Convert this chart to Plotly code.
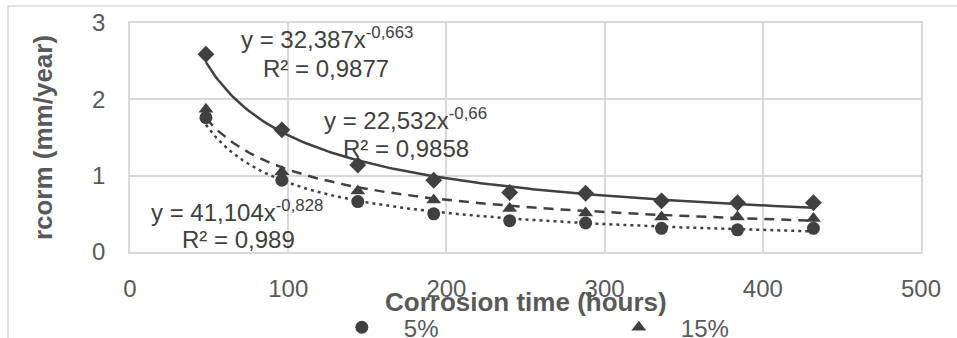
import numpy as np
import plotly.graph_objects as go

# ---- data ----
hours = [48, 96, 144, 192, 240, 288, 336, 384, 432]
rcorm_5 = [1.76, 0.94, 0.66, 0.50, 0.41, 0.38, 0.31, 0.29, 0.31]
rcorm_15 = [1.87, 1.05, 0.80, 0.68, 0.57, 0.51, 0.46, 0.46, 0.44]
rcorm_25 = [2.59, 1.60, 1.14, 0.94, 0.78, 0.77, 0.67, 0.645, 0.645]

series_names = ["5%", "15%", "25%"]
# power trend lines y = a * x^b as printed on the chart
trend_a = [41.104, 22.532, 32.387]
trend_b = [-0.828, -0.66, -0.663]
trend_eq = ["y = 41,104x<sup>-0,828</sup>", "y = 22,532x<sup>-0,66</sup>", "y = 32,387x<sup>-0,663</sup>"]
trend_r2 = ["R² = 0,989", "R² = 0,9858", "R² = 0,9877"]

x_ticks = [0, 100, 200, 300, 400, 500]
y_ticks = [0, 1, 2, 3]

INK = "#404040"
TXT = "#595959"
GRID = "#d9d9d9"
FONT = "Liberation Sans, Arial, sans-serif"

fig = go.Figure()

series_vals = [rcorm_5, rcorm_15, rcorm_25]
symbols = ["circle", "triangle-up", "diamond"]
sizes = [13, 13, 13]
dashes = ["3px,4px", "10px,7px", "solid"]

xs = np.linspace(min(hours), max(hours), 200)
for vals, name, sym, sz, a, b, d in zip(series_vals, series_names, symbols, sizes, trend_a, trend_b, dashes):
    fig.add_trace(go.Scatter(
        x=xs, y=a * xs ** b, mode="lines", showlegend=False, hoverinfo="skip",
        line=dict(color=INK, width=2.5, dash=d),
    ))
for vals, name, sym, sz in zip(series_vals, series_names, symbols, sizes):
    fig.add_trace(go.Scatter(
        x=hours, y=vals, mode="markers", name=name,
        marker=dict(symbol=sym, size=sz, color=INK),
    ))

# equation labels (pixel positions converted to data coords)
eq_pos = [((237, 211), (238, 239)), ((405, 119), (406, 148)), ((327, 38), (326, 68))]
def px2x(px):
    return (px - 130) / 791 * 500
def py2y(py):
    return (252 - py) / 229 * 3

annotations = []
for (p1, p2), eq, r2 in zip(eq_pos, trend_eq, trend_r2):
    annotations.append(dict(x=px2x(p1[0]), y=py2y(p1[1]), xref="x", yref="y", text=eq,
                            showarrow=False, xanchor="center", yanchor="middle",
                            font=dict(family=FONT, size=24, color=INK)))
    annotations.append(dict(x=px2x(p2[0]), y=py2y(p2[1]), xref="x", yref="y", text=r2,
                            showarrow=False, xanchor="center", yanchor="middle",
                            font=dict(family=FONT, size=24, color=INK)))

annotations.append(dict(x=0.5, y=(252 - 302) / 229, xref="paper", yref="paper",
                        text="<b>Corrosion time (hours)</b>", showarrow=False,
                        xanchor="center", yanchor="middle",
                        font=dict(family=FONT, size=26, color=TXT)))

fig.update_layout(
    width=957, height=338,
    margin=dict(l=130, r=36, t=23, b=86, autoexpand=False),
    paper_bgcolor="white", plot_bgcolor="white",
    font=dict(family=FONT, size=24, color=TXT),
    annotations=annotations,
    shapes=[dict(type="rect", xref="paper", yref="paper",
                 x0=(8 - 130) / 791, x1=1.2, y0=-0.6, y1=(252 - 6) / 229,
                 line=dict(color=GRID, width=1.5), fillcolor="rgba(0,0,0,0)", layer="below")],
    legend=dict(orientation="h", x=0.24, xanchor="left", y=-0.232, yanchor="top",
                itemwidth=74, entrywidth=188, entrywidthmode="pixels",
                font=dict(family=FONT, size=24, color=TXT),
                bgcolor="rgba(0,0,0,0)"),
    xaxis=dict(range=[0, 500], tickvals=x_ticks, ticktext=[str(v) for v in x_ticks],
               showgrid=True, gridcolor=GRID, gridwidth=1.5, zeroline=False,
               showline=True, linecolor=GRID, linewidth=1.5, mirror=True,
               ticks="", ticklabelstandoff=14,
               tickfont=dict(family=FONT, size=24, color=TXT)),
    yaxis=dict(range=[0, 3], tickvals=y_ticks, ticktext=[str(v) for v in y_ticks],
               showgrid=True, gridcolor=GRID, gridwidth=1.5, zeroline=False,
               showline=True, linecolor=GRID, linewidth=1.5, mirror=True,
               ticks="", ticklabelstandoff=18,
               tickfont=dict(family=FONT, size=24, color=TXT),
               title=dict(text="<b>rcorm (mm/year)</b>", standoff=32,
                          font=dict(family=FONT, size=26, color=TXT))),
)

fig.write_html("out.html")
